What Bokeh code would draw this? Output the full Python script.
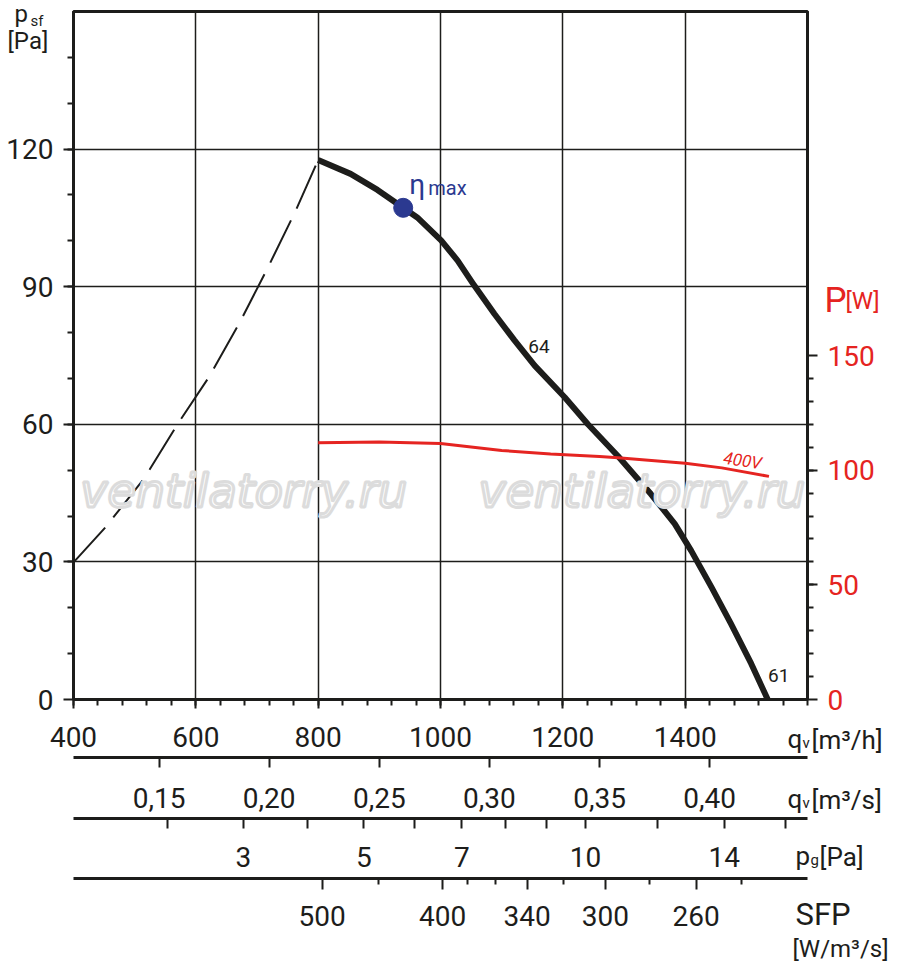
import numpy as np
from bokeh.embed import file_html
from bokeh.models import CustomJSTickFormatter, FixedTicker, GridBox, Label, LinearAxis, Range1d
from bokeh.plotting import figure
from bokeh.resources import INLINE

FONT = "Roboto"
INK = "#1d1d1b"
RED = "#e52421"
BLUE = "#2b3990"

# fan curve: q [m3/h], p_sf [Pa]
flow = [800, 853, 897, 939, 962, 1001, 1028, 1055, 1088, 1121, 1154, 1203, 1241,
        1290, 1344, 1383, 1410, 1443, 1475, 1508, 1535]
pressure = [117.6, 114.6, 111.1, 107.2, 105.1, 100.1, 95.7, 90.3, 84.1, 78.3, 72.8, 65.9, 60.0,
            53.1, 44.8, 38.3, 32.4, 24.5, 16.5, 7.8, 0.0]

# unstable part (dashed)
stall_flow = [400, 452, 515, 570, 621, 673, 719, 763, 800]
stall_pressure = [29.9, 37.5, 48.1, 60.0, 70.2, 82.5, 94.5, 106.5, 117.6]

# power input at 400 V: q [m3/h], P [W]
power_flow = [800, 900, 1000, 1100, 1180, 1260, 1290, 1400, 1460, 1537]
power = [112.0, 112.3, 111.6, 108.6, 107.1, 106.0, 105.4, 103.0, 101.0, 97.3]

eta_flow, eta_pressure = 939, 107.2

# extra scales under the chart
m3s_ticks = [0.15, 0.20, 0.25, 0.30, 0.35, 0.40]
pg_major = [3, 5, 7, 10, 14]
pg_minor = [2, 4, 6, 8, 9, 12, 16]
pg_coeff = 391.2  # q [m3/h] = pg_coeff * sqrt(p_g)
sfp_major = [500, 400, 340, 300, 260]
sfp_minor = [450, 380, 360, 320, 280, 240]

# where SFP = P / q takes the tick values
grid_q = np.linspace(power_flow[0], power_flow[-1], 2000)
sfp_curve = 3600 * np.interp(grid_q, power_flow, power) / grid_q


def sfp_pos(vals):
    return [float(np.interp(v, sfp_curve[::-1], grid_q[::-1])) for v in vals]


# frame: x 73..807, y 11..699 on the page
p = figure(width=900, height=967, x_range=Range1d(400, 1600), y_range=Range1d(0, 150),
           output_backend="svg", toolbar_location=None,
           min_border_left=73, min_border_right=93, min_border_top=11, min_border_bottom=268)
p.extra_y_ranges = {"power": Range1d(0, 300)}
p.extra_x_ranges = {"m3s": Range1d(400 / 3600, 1600 / 3600),
                    "sqrtpg": Range1d(400 / pg_coeff, 1600 / pg_coeff)}

p.outline_line_color = INK
p.outline_line_width = 3
p.background_fill_color = "white"
p.border_fill_color = "white"


def style_axis(ax, tick=10, minor=6, standoff=12, size="28px", color=INK):
    ax.axis_line_color = INK
    ax.axis_line_width = 3
    ax.major_tick_line_color = INK
    ax.major_tick_line_width = 2
    ax.major_tick_out = tick
    ax.major_tick_in = 0
    ax.minor_tick_line_color = INK
    ax.minor_tick_line_width = 2
    ax.minor_tick_out = minor
    ax.minor_tick_in = 0
    ax.major_label_text_font = FONT
    ax.major_label_text_font_size = size
    ax.major_label_text_color = color
    ax.major_label_standoff = standoff


def pad_axis(ax, px):
    # invisible axis label, only to space the stacked scales apart
    ax.axis_label = " "
    ax.axis_label_text_font_size = "1px"
    ax.axis_label_standoff = px


xt = FixedTicker(ticks=list(range(400, 1401, 200)), minor_ticks=list(range(400, 1601, 40)))
p.xaxis.ticker = xt
p.xgrid.ticker = xt
style_axis(p.xaxis[0], tick=9, minor=6, standoff=18)
pad_axis(p.xaxis[0], 4)

yt = FixedTicker(ticks=[0, 30, 60, 90, 120], minor_ticks=list(range(10, 141, 10)))
p.yaxis.ticker = yt
p.ygrid.ticker = yt
style_axis(p.yaxis[0], tick=10, minor=6, standoff=10)

p.grid.grid_line_color = INK
p.grid.grid_line_width = 1.5

pax = LinearAxis(y_range_name="power",
                 ticker=FixedTicker(ticks=[0, 50, 100, 150], minor_ticks=list(range(10, 141, 10))))
style_axis(pax, tick=10, minor=6, standoff=10, color=RED)
p.add_layout(pax, "right")

ax2 = LinearAxis(x_range_name="m3s", ticker=FixedTicker(ticks=m3s_ticks, minor_ticks=[]),
                 formatter=CustomJSTickFormatter(code="return tick.toFixed(2).replace('.', ',')"))
style_axis(ax2, tick=10, minor=0, standoff=20)
pad_axis(ax2, 4)
p.add_layout(ax2, "below")

ax3 = LinearAxis(x_range_name="sqrtpg",
                 ticker=FixedTicker(ticks=[float(v) for v in np.sqrt(pg_major)],
                                    minor_ticks=[float(v) for v in np.sqrt(pg_minor)]),
                 formatter=CustomJSTickFormatter(code="return String(Math.round(tick * tick))"))
style_axis(ax3, tick=10, minor=10, standoff=18)
pad_axis(ax3, 5)
p.add_layout(ax3, "below")

sfp_q = sfp_pos(sfp_major)
ax4 = LinearAxis(ticker=FixedTicker(ticks=sfp_q, minor_ticks=sfp_pos(sfp_minor)),
                 formatter=CustomJSTickFormatter(args=dict(q=sfp_q, s=sfp_major), code="""
    let best = 0
    for (let i = 0; i < q.length; i++) {
        if (Math.abs(q[i] - tick) < Math.abs(q[best] - tick)) best = i
    }
    return String(s[best])
"""))
style_axis(ax4, tick=11, minor=6, standoff=16)
p.add_layout(ax4, "below")

# curves
p.line(stall_flow, stall_pressure, line_color=INK, line_width=2, line_dash="47 13")
p.line(flow, pressure, line_color=INK, line_width=6, line_join="round")
p.line(power_flow, power, y_range_name="power", line_color=RED, line_width=3)
p.scatter([eta_flow], [eta_pressure], size=19, color=BLUE)


def note(fig, text, x, y, size, color=INK, align="left", style="normal",
         font=FONT, angle=0.0, y_range_name="default", outline=None):
    kw = {"text_outline_color": outline} if outline else {}
    fig.add_layout(Label(x=x, y=y, text=text, text_font=font, text_font_size=size,
                         text_color=color, text_align=align, text_baseline="middle",
                         text_font_style=style, angle=angle, y_range_name=y_range_name, **kw))


# watermark
for wx in (411, 1062):
    note(p, "ventilatorry.ru", wx, 45.5, "46px", color="white", style="italic",
         font="DejaVu Sans", outline="#dcdcdc")

note(p, "η", 949, 112.2, "28px", BLUE)
note(p, "max", 980, 111.6, "20px", BLUE)
note(p, "64", 1161, 77, "19px", align="center")
note(p, "61", 1553, 5.2, "19px", align="center")
note(p, "400V", 1494, 104.2, "17px", RED, align="center", style="italic", angle=-0.15,
     y_range_name="power")

# axis names sit outside the frame, where labels get clipped, so they go on a
# transparent sheet laid over the chart; page px of left edge and baseline
sheet = figure(frame_width=900, frame_height=967, x_range=Range1d(0, 900),
               y_range=Range1d(967, 0), output_backend="svg", toolbar_location=None,
               x_axis_location=None, y_axis_location=None, min_border=0,
               outline_line_color=None, background_fill_color=None, border_fill_color=None)
sheet.grid.visible = False
try:
    sheet.frame_align = False
    p.frame_align = False
    overlay = True
except AttributeError:
    overlay = False

names = [
    ("p", 14, 22, 24, INK), ("sf", 30, 26, 15, INK), ("[Pa]", 7, 49, 24, INK),
    ("P", 824, 312, 35, RED), ("[W]", 845, 309, 24, RED),
    ("q", 787, 747, 26, INK), ("v", 802, 748, 15, INK), ("[m³/h]", 811, 748, 26, INK),
    ("q", 787, 807, 26, INK), ("v", 802, 808, 15, INK), ("[m³/s]", 811, 808, 26, INK),
    ("p", 795, 864, 26, INK), ("g", 810, 865, 15, INK), ("[Pa]", 819, 865, 26, INK),
    ("SFP", 795, 925, 31, INK), ("[W/m³/s]", 792, 957, 24, INK),
]
for text, px, base, size, color in names:
    note(sheet, text, px, base - 0.34 * size, f"{size}px", color)

root = GridBox(children=[(p, 0, 0), (sheet, 0, 0)]) if overlay else p
open("out.html", "w").write(file_html(root, INLINE))
